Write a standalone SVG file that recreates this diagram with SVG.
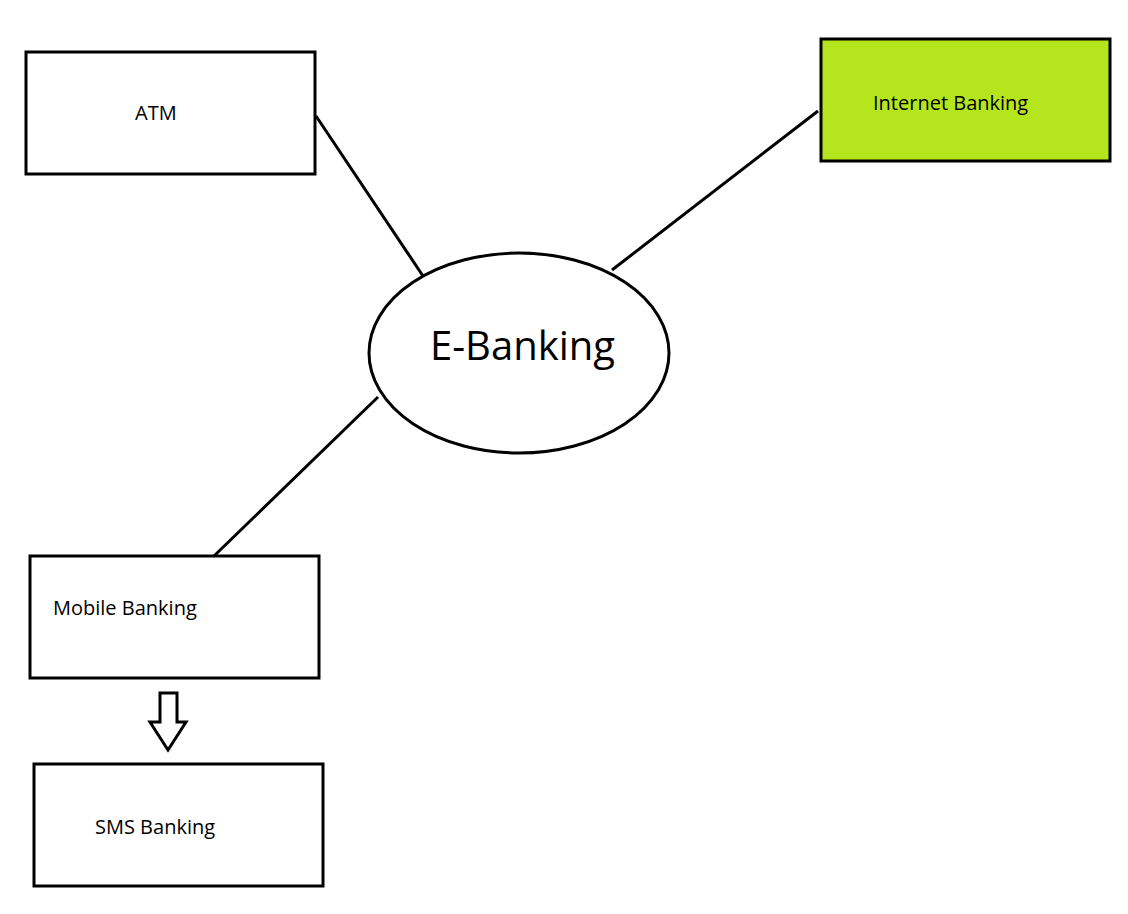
<svg xmlns="http://www.w3.org/2000/svg" width="1128" height="914" viewBox="0 0 1128 914">
<style>
.b{fill:#fff;stroke:#000;stroke-width:3}
.t{font-family:"Open Sans","Noto Sans",sans-serif;font-size:20px;fill:#000}
.c line{stroke:#000;stroke-width:3}
</style>
<rect width="1128" height="914" fill="#fff"/>
<g class="c" id="connectors">
<line x1="316" y1="116" x2="427" y2="282"/>
<line x1="818" y1="111" x2="612" y2="270"/>
<line x1="378" y1="397" x2="214" y2="556"/>
<polygon points="160,693 177,693 177,722 186,722 168,750 150,722 160,722" fill="#fff" stroke="#000" stroke-width="3"/>
</g>
<g id="atm"><rect class="b" x="26" y="52" width="289" height="122"/><text class="t" x="135" y="120">ATM</text></g>
<g id="internet"><rect class="b" x="821" y="39" width="289" height="122" style="fill:#b5e61d"/><text class="t" x="873" y="110">Internet Banking</text></g>
<g id="ebanking"><ellipse class="b" cx="519" cy="353" rx="150" ry="100"/><text class="t" x="430" y="360" style="font-size:40px">E-Banking</text></g>
<g id="mobile"><rect class="b" x="30" y="556" width="289" height="122"/><text class="t" x="53" y="615">Mobile Banking</text></g>
<g id="sms"><rect class="b" x="34" y="764" width="289" height="122"/><text class="t" x="95" y="834">SMS Banking</text></g>
</svg>
